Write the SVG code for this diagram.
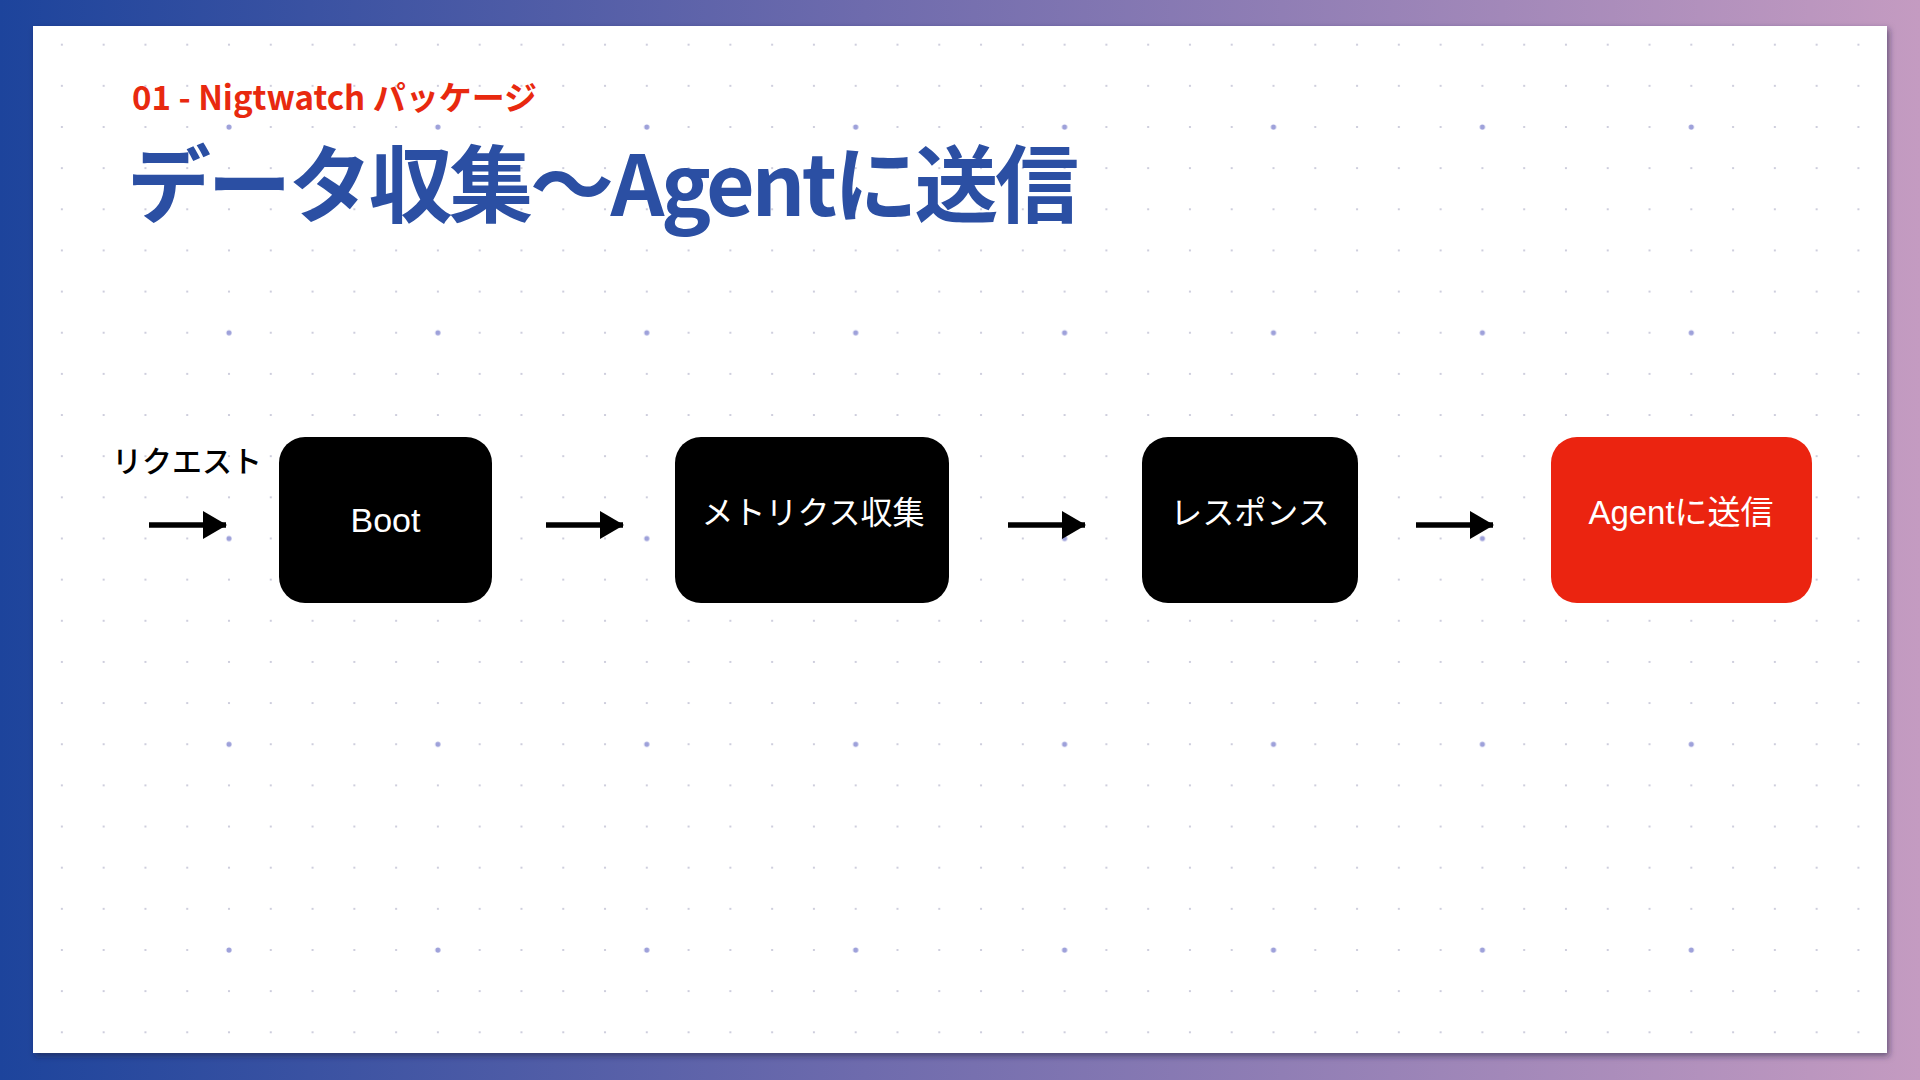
<svg xmlns="http://www.w3.org/2000/svg" width="1920" height="1080" viewBox="0 0 1920 1080">
  <defs>
    <linearGradient id="bg" x1="0" y1="0" x2="1" y2="0">
      <stop offset="0" stop-color="#1d449c"/>
      <stop offset="0.45" stop-color="#6e6bad"/>
      <stop offset="1" stop-color="#c49bc1"/>
    </linearGradient>
    <filter id="shadow" x="-5%" y="-5%" width="110%" height="110%">
      <feDropShadow dx="2" dy="3" stdDeviation="3" flood-color="#1a1a40" flood-opacity="0.55"/>
    </filter>
    <pattern id="dotSmall" patternUnits="userSpaceOnUse" x="41.0" y="24.1" width="41.78" height="41.15">
      <circle cx="20.89" cy="20.575" r="1.1" fill="#c3c3d5"/>
    </pattern>
    <pattern id="dotLarge" patternUnits="userSpaceOnUse" x="41.0" y="24.1" width="208.9" height="205.75">
      <circle cx="188.0" cy="102.9" r="2.6" fill="#9ea1da"/>
    </pattern>
    <marker id="arrow" markerUnits="userSpaceOnUse" markerWidth="24" markerHeight="28" refX="23" refY="14" orient="auto">
      <path d="M0,0 L24,14 L0,28 Z" fill="#000"/>
    </marker>
    <style>
      .box { fill: #000; }
      .boxRed { fill: #eb2410; }
      .boxText { font-family: "Liberation Sans", "Noto Sans CJK JP", sans-serif; font-size: 32px; fill: #fff; text-anchor: middle; }
      .conn { stroke: #000; stroke-width: 5.5; fill: none; marker-end: url(#arrow); }
    </style>
  </defs>

  <rect x="0" y="0" width="1920" height="1080" fill="url(#bg)"/>
  <rect x="33" y="26" width="1854" height="1027" fill="#ffffff" filter="url(#shadow)"/>
  <rect x="33" y="26" width="1854" height="1027" fill="url(#dotSmall)"/>
  <rect x="33" y="26" width="1854" height="1027" fill="url(#dotLarge)"/>

  <text x="132" y="110" font-family="'Noto Sans CJK JP', sans-serif" font-weight="700" font-size="33" fill="#e8290f">01 - Nigtwatch パッケージ</text>
  <text x="127" y="216" font-family="'Noto Sans CJK JP', sans-serif" font-weight="700" font-size="84" fill="#2b4fa3" textLength="952" lengthAdjust="spacing">データ収集～Agentに送信</text>

  <text x="112" y="472" font-family="'Noto Sans CJK JP', sans-serif" font-weight="500" font-size="30" fill="#000">リクエスト</text>

  <g id="connectors">
    <line class="conn" x1="149" y1="525" x2="226" y2="525"/>
    <line class="conn" x1="546" y1="525" x2="623" y2="525"/>
    <line class="conn" x1="1008" y1="525" x2="1085" y2="525"/>
    <line class="conn" x1="1416" y1="525" x2="1493" y2="525"/>
  </g>

  <g id="node-boot">
    <rect class="box" x="279" y="437" width="213" height="166" rx="26"/>
    <text class="boxText" x="385.5" y="532" style="font-size:34px">Boot</text>
  </g>
  <g id="node-metrics">
    <rect class="box" x="675" y="437" width="274" height="166" rx="26"/>
    <text class="boxText" x="813" y="524">メトリクス収集</text>
  </g>
  <g id="node-response">
    <rect class="box" x="1142" y="437" width="216" height="166" rx="26"/>
    <text class="boxText" x="1250" y="524">レスポンス</text>
  </g>
  <g id="node-agent">
    <rect class="boxRed" x="1551" y="437" width="261" height="166" rx="26"/>
    <text class="boxText" x="1681" y="524" style="font-size:33px">Agentに送信</text>
  </g>
</svg>
